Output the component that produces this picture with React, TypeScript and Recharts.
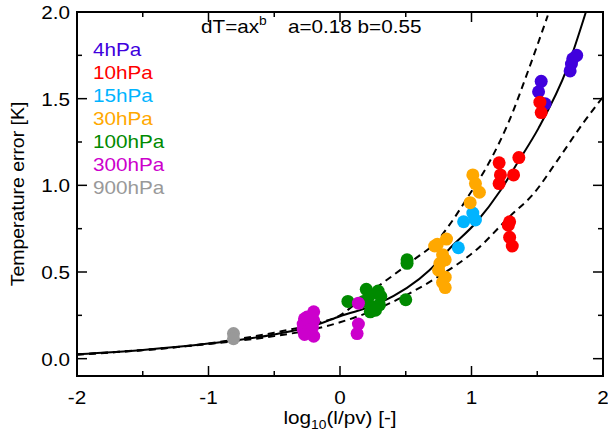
import React from "react";
import { ComposedChart, Line, ReferenceArea, Scatter, XAxis, YAxis } from "recharts";

// scatter groups: [log10(l/pv), temperature error]
const hPa4 = [
  [1.53, 1.6], [1.51, 1.54], [1.56, 1.47], [1.8, 1.75], [1.77, 1.73], [1.76, 1.7], [1.75, 1.66],
];
const hPa10 = [
  [1.52, 1.48], [1.53, 1.42], [1.21, 1.13], [1.22, 1.06], [1.21, 1.01], [1.32, 1.06], [1.36, 1.16],
  [1.29, 0.79], [1.28, 0.77], [1.29, 0.7], [1.31, 0.65],
];
const hPa15 = [[0.94, 0.79], [1.01, 0.84], [1.03, 0.8], [0.9, 0.64]];
const hPa30 = [
  [1.01, 1.06], [1.03, 1.01], [1.06, 0.96], [0.99, 0.9], [0.72, 0.65], [0.74, 0.66], [0.81, 0.69],
  [0.76, 0.55], [0.8, 0.57], [0.75, 0.51], [0.8, 0.47], [0.78, 0.44], [0.8, 0.41], [0.78, 0.6],
];
const hPa100 = [
  [0.06, 0.33], [0.2, 0.4], [0.22, 0.36], [0.29, 0.39], [0.31, 0.36], [0.25, 0.3], [0.3, 0.31],
  [0.23, 0.27], [0.27, 0.28], [0.51, 0.57], [0.51, 0.55], [0.5, 0.34], [0.18, 0.33],
];
const hPa300 = [
  [-0.28, 0.2], [-0.28, 0.17], [-0.27, 0.23], [-0.2, 0.27], [-0.2, 0.22], [-0.21, 0.18], [-0.2, 0.13],
  [-0.25, 0.24], [-0.27, 0.14], [0.14, 0.32], [0.14, 0.2], [0.13, 0.145],
];
const hPa900 = [[-0.81, 0.145], [-0.81, 0.115]];

// fit and bounds
const fitX = [-2, -1.5, -1, -0.5, -0.2, 0, 0.3, 0.68, 0.84, 1.04, 1.22, 1.35, 1.51, 1.73, 1.87];
const fitY = [0.025, 0.05, 0.087, 0.14, 0.19, 0.245, 0.32, 0.51, 0.64, 0.79, 0.97, 1.13, 1.33, 1.68, 2.0];
const upperX = [-2, -1, -0.5, -0.2, 0, 0.17, 0.56, 0.74, 0.84, 0.97, 1.14, 1.28, 1.44, 1.58];
const upperY = [0.025, 0.088, 0.15, 0.2, 0.25, 0.35, 0.57, 0.68, 0.78, 0.93, 1.14, 1.36, 1.68, 1.98];
const lowerX = [-2, -1, -0.5, -0.2, 0, 0.38, 0.74, 1.04, 1.29, 1.47, 1.65, 1.85, 2.0];
const lowerY = [0.022, 0.085, 0.13, 0.17, 0.21, 0.32, 0.47, 0.63, 0.82, 0.95, 1.14, 1.36, 1.51];

const xTicks = [-2, -1.5, -1, -0.5, 0, 0.5, 1, 1.5, 2];
const yTicks = [0, 0.25, 0.5, 0.75, 1, 1.25, 1.5, 1.75, 2];

const groups = [
  { name: "4hPa", color: "#4000dd", pts: hPa4 },
  { name: "10hPa", color: "#ff0000", pts: hPa10 },
  { name: "15hPa", color: "#00b4ff", pts: hPa15 },
  { name: "30hPa", color: "#ffa800", pts: hPa30 },
  { name: "100hPa", color: "#008a00", pts: hPa100 },
  { name: "300hPa", color: "#cc00cc", pts: hPa300 },
  { name: "900hPa", color: "#999999", pts: hPa900 },
];

const toRows = (xs: number[], ys: number[]) => xs.map((x, i) => ({ x, y: ys[i] }));

const W = 608;
const H = 434;
const L = 77;
const R = 603;
const T = 12;
const B = 376;
const FONT = "'Liberation Sans', Arial, Helvetica, sans-serif";
const STRETCH = 1.15;

function Wide({ x, y, anchor = "start", size = 18, fill = "#000", children }: any) {
  return (
    <text
      transform={`translate(${x},${y}) scale(${STRETCH},1)`}
      textAnchor={anchor}
      fontSize={size}
      fontFamily={FONT}
      fill={fill}
    >
      {children}
    </text>
  );
}

function XTick(props: any) {
  const { x, payload } = props;
  const v = payload.value as number;
  const major = Number.isInteger(v);
  const len = major ? 10 : 5;
  return (
    <g>
      <line x1={x} x2={x} y1={B} y2={B - len} stroke="#000" strokeWidth={1.5} />
      <line x1={x} x2={x} y1={T} y2={T + len} stroke="#000" strokeWidth={1.5} />
      {major && <Wide x={x} y={404} anchor="middle">{String(v)}</Wide>}
    </g>
  );
}

function YTick(props: any) {
  const { y, payload } = props;
  const v = payload.value as number;
  const major = Math.abs(v * 2 - Math.round(v * 2)) < 1e-6;
  const len = major ? 10 : 5;
  return (
    <g>
      <line x1={L} x2={L + len} y1={y} y2={y} stroke="#000" strokeWidth={1.5} />
      <line x1={R} x2={R - len} y1={y} y2={y} stroke="#000" strokeWidth={1.5} />
      {major && <Wide x={70} y={y + 7} anchor="end">{v.toFixed(1)}</Wide>}
    </g>
  );
}

export default function App() {
  return (
    <div style={{ position: "absolute", left: 0, top: 0, width: W, height: H, background: "#fff" }}>
      <ComposedChart
        width={W}
        height={H}
        margin={{ top: T, right: W - R, bottom: 28, left: L - 60 }}
      >
        <XAxis
          type="number"
          dataKey="x"
          domain={[-2, 2]}
          ticks={xTicks}
          interval={0}
          allowDataOverflow
          height={30}
          axisLine={false}
          tickLine={false}
          tick={<XTick />}
        />
        <YAxis
          type="number"
          dataKey="y"
          domain={[-0.1, 2]}
          ticks={yTicks}
          interval={0}
          allowDataOverflow
          width={60}
          axisLine={false}
          tickLine={false}
          tick={<YTick />}
        />
        {groups.map((g) => (
          <Scatter
            key={g.name}
            name={g.name}
            data={g.pts.map(([x, y]) => ({ x, y }))}
            isAnimationActive={false}
            shape={(p: any) => <circle cx={p.cx} cy={p.cy} r={6.5} fill={g.color} />}
          />
        ))}
        <Line
          data={toRows(upperX, upperY)}
          dataKey="y"
          type="monotone"
          stroke="#000"
          strokeWidth={2}
          strokeDasharray="7 5"
          dot={false}
          activeDot={false}
          isAnimationActive={false}
        />
        <Line
          data={toRows(lowerX, lowerY)}
          dataKey="y"
          type="monotone"
          stroke="#000"
          strokeWidth={2}
          strokeDasharray="7 5"
          dot={false}
          activeDot={false}
          isAnimationActive={false}
        />
        <Line
          data={toRows(fitX, fitY)}
          dataKey="y"
          type="monotone"
          stroke="#000"
          strokeWidth={2}
          dot={false}
          activeDot={false}
          isAnimationActive={false}
        />
        <ReferenceArea x1={-2} x2={2} y1={-0.1} y2={2} fill="none" stroke="#000" strokeWidth={2} ifOverflow="visible" />
      </ComposedChart>
      <svg
        width={W}
        height={H}
        style={{ position: "absolute", left: 0, top: 0, pointerEvents: "none" }}
      >
        {groups.map((g, i) => (
          <Wide key={g.name} x={93} y={56 + i * 23} fill={g.color}>
            {g.name}
          </Wide>
        ))}
        <text
          transform={`translate(201,33) scale(${STRETCH},1)`}
          fontSize={18}
          fontFamily={FONT}
        >
          dT=ax
          <tspan dy={-8} fontSize={12}>b</tspan>
        </text>
        <Wide x={288} y={33}>a=0.18 b=0.55</Wide>
        <text
          transform={`translate(340,424) scale(${STRETCH},1)`}
          textAnchor="middle"
          fontSize={18}
          fontFamily={FONT}
        >
          log
          <tspan dy={5} fontSize={12}>10</tspan>
          <tspan dy={-5}>(l/pv) [-]</tspan>
        </text>
        <text
          transform={`translate(24,194) rotate(-90) scale(1.08,1)`}
          textAnchor="middle"
          fontSize={18}
          fontFamily={FONT}
        >
          Temperature error [K]
        </text>
      </svg>
    </div>
  );
}
